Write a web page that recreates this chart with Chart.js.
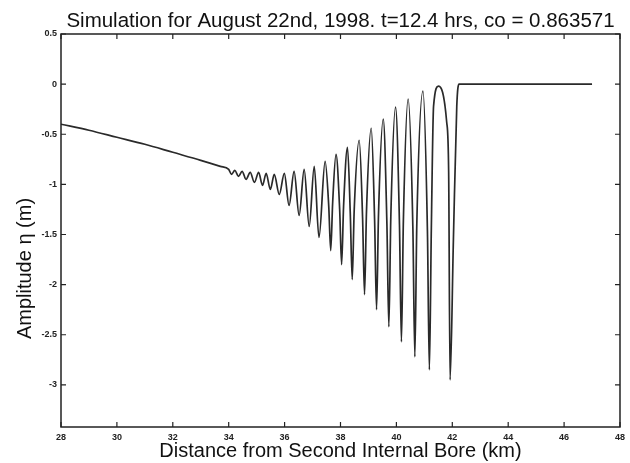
<!DOCTYPE html>
<html><head><meta charset="utf-8">
<script src="https://cdn.jsdelivr.net/npm/chart.js@4.4.1/dist/chart.umd.min.js"></script>
<style>html,body{margin:0;padding:0;background:#fff}#wrap{width:630px;height:463px}</style>
</head><body><div id="wrap"><canvas id="c" width="630" height="463"></canvas></div>
<script>
const chartTitle = 'Simulation for August 22nd, 1998. t=12.4 hrs, co = 0.863571';
const xAxisTitle = 'Distance from Second Internal Bore (km)';
const yAxisTitle = 'Amplitude \u03B7 (m)';

const distanceKm = [
  28.00, 29.00, 30.00, 31.00, 32.00, 33.00, 33.70, 34.00,
  34.10, 34.22, 34.35, 34.48, 34.62, 34.77, 34.92, 35.07, 35.21, 35.34, 35.49, 35.63,
  35.81, 35.99, 36.16, 36.34, 36.52, 36.70, 36.88, 37.06, 37.23, 37.45,
  37.58, 37.65, 37.72, 37.84,
  37.97, 38.04, 38.11, 38.25,
  38.35, 38.42, 38.49, 38.67,
  38.79, 38.86, 38.93, 39.10,
  39.22, 39.29, 39.36, 39.53,
  39.66, 39.73, 39.80, 39.97,
  40.11, 40.18, 40.25, 40.42,
  40.59, 40.66, 40.73, 40.95,
  41.11, 41.18, 41.25, 41.33, 41.51, 41.80, 41.87,
  41.92, 42.04, 42.16, 42.24, 47.00
];
const amplitudeM = [
  -0.40, -0.46, -0.53, -0.60, -0.68, -0.76, -0.82, -0.85,
  -0.90, -0.86, -0.92, -0.87, -0.95, -0.88, -0.98, -0.88, -1.01, -0.89, -1.05, -0.90,
  -1.10, -0.89, -1.21, -0.87, -1.31, -0.85, -1.42, -0.82, -1.53, -0.77,
  -1.22, -1.66, -1.18, -0.70,
  -1.25, -1.80, -1.22, -0.63,
  -1.29, -1.95, -1.26, -0.56,
  -1.33, -2.10, -1.27, -0.44,
  -1.35, -2.25, -1.30, -0.35,
  -1.39, -2.42, -1.33, -0.23,
  -1.40, -2.57, -1.36, -0.15,
  -1.44, -2.72, -1.40, -0.07,
  -1.46, -2.85, -1.44, -0.22, -0.02, -0.38, -0.88,
  -2.95, -1.55, -0.22, 0.00, 0.00
];
const xRange = [28, 48];
const xStep = 2;
const yRange = [-3.42, 0.5];
const yStep = 0.5;

const points = distanceKm.map((d, i) => ({x: d, y: amplitudeM[i]}));

const FONT = 'Liberation Sans, Arial, sans-serif';

const frameTicks = {
  id: 'frameTicks',
  afterDraw(chart) {
    const {ctx, chartArea: a, scales} = chart;
    ctx.save();
    ctx.strokeStyle = '#222';
    ctx.lineWidth = 1.5;
    ctx.strokeRect(a.left, a.top, a.right - a.left, a.bottom - a.top);
    ctx.lineWidth = 1.2;
    const L = 5;
    ctx.beginPath();
    scales.x.ticks.forEach(t => {
      const px = scales.x.getPixelForValue(t.value);
      ctx.moveTo(px, a.bottom); ctx.lineTo(px, a.bottom - L);
      ctx.moveTo(px, a.top); ctx.lineTo(px, a.top + L);
    });
    scales.y.ticks.forEach(t => {
      const py = scales.y.getPixelForValue(t.value);
      ctx.moveTo(a.left, py); ctx.lineTo(a.left + L, py);
      ctx.moveTo(a.right, py); ctx.lineTo(a.right - L, py);
    });
    ctx.stroke();
    // chart title, centred over the plot box
    ctx.fillStyle = '#111';
    ctx.font = '20.5px ' + FONT;
    ctx.textAlign = 'center';
    ctx.textBaseline = 'alphabetic';
    ctx.fillText(chartTitle, (a.left + a.right) / 2, a.top - 7);
    // y axis title
    ctx.font = '20px ' + FONT;
    ctx.translate(25, (a.top + a.bottom) / 2 + 38);
    ctx.rotate(-Math.PI / 2);
    ctx.textBaseline = 'middle';
    ctx.fillText(yAxisTitle, 0, 0);
    ctx.restore();
  }
};

const tickFont = {family: FONT, size: 9, weight: 'bold'};
const fmt = v => String(Math.round(v * 10) / 10);

new Chart(document.getElementById('c'), {
  type: 'line',
  data: {
    datasets: [{
      data: points,
      borderColor: '#2a2a2a',
      borderWidth: 1.7,
      pointRadius: 0,
      fill: false,
      cubicInterpolationMode: 'monotone'
    }]
  },
  options: {
    responsive: false,
    animation: false,
    devicePixelRatio: 1,
    layout: {padding: {left: 0, right: 8, top: 34, bottom: 0}},
    plugins: {
      legend: {display: false},
      tooltip: {enabled: false},
      title: {display: false}
    },
    scales: {
      x: {
        type: 'linear',
        min: xRange[0], max: xRange[1],
        ticks: {stepSize: xStep, font: tickFont, color: '#222', padding: 5, maxRotation: 0, autoSkip: false, callback: fmt},
        grid: {drawOnChartArea: false, drawTicks: false},
        border: {display: false},
        title: {display: true, text: xAxisTitle, color: '#111',
          font: {family: FONT, size: 20}, padding: {top: 0, bottom: 0}},
        afterFit(s) { s.height = 36; }
      },
      y: {
        type: 'linear',
        min: yRange[0], max: yRange[1],
        ticks: {stepSize: yStep, includeBounds: false, font: tickFont, color: '#222', padding: 4, autoSkip: false, callback: fmt},
        grid: {drawOnChartArea: false, drawTicks: false},
        border: {display: false},
        afterFit(s) { s.width = 61; }
      }
    }
  },
  plugins: [frameTicks]
});
</script>
</body></html>
